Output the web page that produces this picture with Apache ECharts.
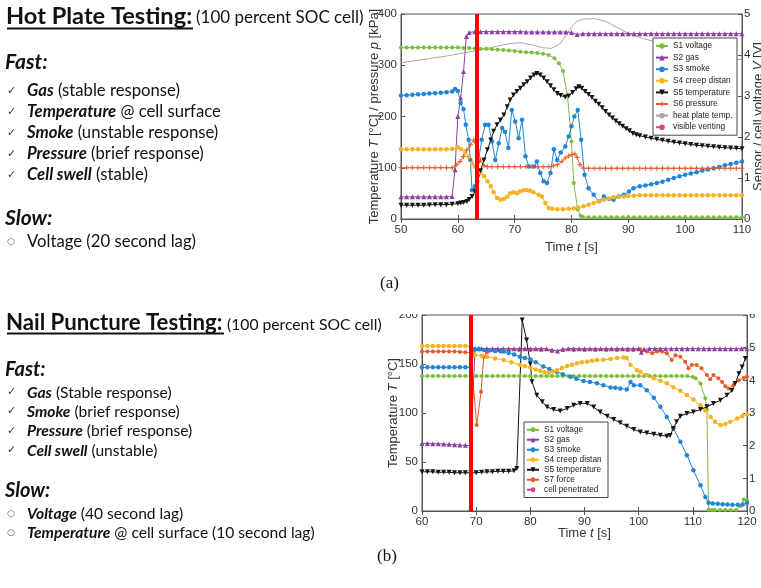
<!DOCTYPE html>
<html>
<head>
<meta charset="utf-8">
<script src="https://cdn.jsdelivr.net/npm/echarts@6.0.0/dist/echarts.min.js"></script>
<style>html,body{margin:0;padding:0;background:#fff}#chart{width:761px;height:588px}</style>
</head>
<body>
<div id="chart"></div>
<script>
// ---- text on the left ----
const hotItems = [['Gas', ' (stable response)'], ['Temperature', ' @ cell surface'], ['Smoke', ' (unstable response)'], ['Pressure', ' (brief response)'], ['Cell swell', ' (stable)']]
const hotSlow = [['', 'Voltage (20 second lag)']]
const nailItems = [['Gas', ' (Stable response)'], ['Smoke', ' (brief response)'], ['Pressure', ' (brief response)'], ['Cell swell', ' (unstable)']]
const nailSlow = [['Voltage', ' (40 second lag)'], ['Temperature', ' @ cell surface (10 second lag)']]

// ---- (a) hot plate, time [s] / value ----
const s1VoltA = [[50,4.18],[51,4.18],[52,4.18],[53,4.18],[54,4.18],[55,4.18],[56,4.18],[57,4.18],[58,4.18],[59,4.18],[60,4.18],[61,4.17],[62,4.17],[63,4.16],[64,4.15],[65,4.15],[66,4.14],[67,4.13],[68,4.12],[69,4.11],[70,4.1],[71,4.08],[72,4.07],[73,4.06],[74,4.05],[75,4.03],[76,4.0],[77,3.92],[77.8,3.8],[78.5,3.61],[79.3,3.0],[80,1.89],[80.4,0.88],[81.1,0.23],[81.6,0.08],[82,0.05],[83,0.04],[84,0.04],[85,0.04],[86,0.04],[87,0.04],[88,0.04],[89,0.04],[90,0.04],[91,0.04],[92,0.04],[93,0.04],[94,0.04],[95,0.04],[96,0.04],[97,0.04],[98,0.04],[99,0.04],[100,0.04],[101,0.04],[102,0.04],[103,0.04],[104,0.04],[105,0.04],[106,0.04],[107,0.04],[108,0.04],[109,0.04],[110,0.04]]
const s2GasA = [[50,0.54],[51,0.54],[52,0.54],[53,0.54],[54,0.54],[55,0.54],[56,0.54],[57,0.54],[58,0.54],[59,0.55],[59.5,1.2],[60,2.5],[60.5,2.95],[61,3.6],[61.5,4.45],[62,4.55],[63,4.57],[64,4.57],[65,4.57],[66,4.57],[67,4.57],[68,4.57],[69,4.57],[70,4.57],[71,4.57],[72,4.56],[73,4.56],[74,4.56],[75,4.56],[76,4.56],[77,4.56],[78,4.56],[79,4.56],[80,4.55],[81,4.5],[82,4.52],[83,4.52],[84,4.52],[85,4.52],[86,4.52],[87,4.52],[88,4.52],[89,4.52],[90,4.52],[91,4.52],[92,4.52],[93,4.52],[94,4.52],[95,4.52],[96,4.52],[97,4.52],[98,4.52],[99,4.52],[100,4.52],[101,4.52],[102,4.52],[103,4.52],[104,4.52],[105,4.52],[106,4.52],[107,4.52],[108,4.52],[109,4.52],[110,4.52]]
const s3SmokeA = [[50,3.01],[51,3.02],[52,3.03],[53,3.04],[54,3.05],[55,3.06],[56,3.07],[57,3.08],[58,3.09],[59,3.11],[59.5,3.17],[60,3.12],[60.5,2.83],[61,2.68],[61.4,2.3],[61.9,1.93],[62.2,1.44],[62.5,0.7],[63,0.8],[63.6,1.4],[64.2,1.93],[64.8,2.3],[65.4,2.3],[66,1.89],[66.6,1.44],[67.2,1.85],[67.8,2.22],[68.3,2.13],[68.9,1.73],[69.5,2.66],[70.1,2.38],[70.7,1.97],[71.3,2.42],[71.9,1.53],[72.5,1.28],[73.4,1.28],[73.9,1.4],[74.5,1.12],[75.1,0.92],[75.7,0.88],[76.3,1.12],[76.9,1.7],[77.5,1.44],[78.1,1.62],[78.9,1.77],[79.5,2.01],[80,2.26],[80.5,2.5],[81.1,2.66],[81.7,1.93],[82.3,1.08],[83,0.75],[83.9,0.59],[84.8,0.43],[85.7,0.55],[86.6,0.49],[87.4,0.47],[88.3,0.55],[89.2,0.59],[90.1,0.67],[90.9,0.75],[92,0.8],[93,0.82],[94,0.85],[95,0.88],[96,0.91],[97,0.96],[98,1.0],[99,1.04],[100,1.08],[101,1.11],[102,1.14],[103,1.18],[104,1.21],[105,1.24],[106,1.27],[107,1.31],[108,1.34],[109,1.37],[110,1.4]]
const s4CreepA = [[50,1.7],[51,1.7],[52,1.7],[53,1.7],[54,1.7],[55,1.7],[56,1.7],[57,1.7],[58,1.7],[59,1.71],[60,1.75],[60.6,1.7],[61.3,1.62],[61.9,1.52],[62.5,1.36],[63,1.28],[63.5,1.2],[64,1.12],[64.6,1.04],[65.2,0.92],[65.8,0.8],[66.3,0.65],[66.9,0.51],[67.5,0.47],[68.1,0.49],[68.7,0.54],[69.2,0.63],[69.8,0.65],[70.4,0.63],[70.9,0.67],[71.5,0.7],[72.1,0.71],[72.7,0.69],[73.3,0.65],[74.2,0.59],[74.8,0.55],[75.4,0.39],[76,0.27],[76.6,0.25],[77.5,0.24],[78.5,0.24],[79.5,0.25],[80.4,0.26],[81.2,0.28],[82.1,0.31],[83,0.35],[83.9,0.39],[84.8,0.43],[85.7,0.47],[86.6,0.5],[87.4,0.53],[88.3,0.54],[89.2,0.55],[90,0.56],[91,0.57],[92,0.58],[93,0.58],[94,0.58],[95,0.58],[96,0.58],[97,0.58],[98,0.58],[99,0.58],[100,0.58],[101,0.58],[102,0.58],[103,0.58],[104,0.58],[105,0.58],[106,0.58],[107,0.58],[108,0.58],[109,0.58],[110,0.58]]
const s5TempA = [[50,27],[51,27],[52,27],[53,27],[54,27],[55,27.5],[56,28],[57,28],[58,28],[59,29],[60,30],[60.5,31],[61,32],[61.6,34],[62,38],[62.5,44],[63,54],[63.4,70],[64,94],[64.6,115],[65.2,135],[65.8,154],[66.3,171],[66.9,184],[67.5,193],[68.1,203],[68.7,219],[69.2,232],[69.8,242],[70.4,249],[71,255],[71.6,262],[72.2,268],[72.8,275],[73.4,281],[73.9,284],[74.5,281],[75.1,275],[75.7,268],[76.3,260],[76.9,252],[77.5,245],[78.1,241],[78.9,238],[79.5,240],[80.2,247],[80.8,254],[81.3,258],[81.8,255],[82.4,249],[83,243],[83.6,237],[84.2,230],[84.8,224],[85.4,217],[86,210],[86.6,203],[87.2,197],[87.8,191],[88.4,186],[89,181],[89.6,176],[90.2,172],[90.8,167],[91.4,164.5],[92,162.5],[93,160],[94,157.5],[95,155.5],[96,153.5],[97,151.5],[98,150],[99,148.5],[100,147],[101,145.5],[102,144],[103,143],[104,142],[105,141],[106,140],[107,139],[108,138.5],[109,138],[110,137]]
const s6PressA = [[50,100],[51,100],[52,100],[53,100],[54,100],[55,100],[56,100],[57,100],[58,100],[59,100],[59.8,106],[60.4,112],[61,122],[61.6,135],[62.2,145],[62.8,154],[63.4,135],[64,115],[64.6,104],[65.2,102],[66,102],[67,102],[68,102],[69,102],[70,102],[71,102],[72,102],[73,102],[74,102],[75,102],[76,102],[76.8,104],[77.5,106],[78.3,112],[78.9,119],[79.5,123],[80.1,126],[80.6,127],[81,120],[81.5,106],[82.1,99],[83,99],[84,99],[85,99],[86,99],[87,99],[88,99],[89,99],[90,99],[91,99],[92,99],[93,99],[94,99],[95,99],[96,99],[97,99],[98,99],[99,99],[100,99],[101,99],[102,99],[103,99],[104,99],[105,99],[106,99],[107,99],[108,99],[109,99],[110,99]]
const heatPlateA = [[50,305],[52,308],[55,313],[58,318],[60,322],[63,328],[66,335],[69,342],[71,344],[73,340],[75,334],[76.5,333],[78,342],[79,358],[80,375],[81,386],[82,390],[84,391],[86,386],[88,374],[90,362],[92,354],[95,345],[100,330],[105,318],[108,312],[110,311]]
const ventA = 63.35

// ---- (b) nail puncture ----
const s1VoltB = [[60,4.13],[61,4.13],[62,4.13],[63,4.13],[64,4.13],[65,4.13],[66,4.13],[67,4.13],[68,4.13],[69,4.13],[70,4.13],[71,4.13],[72,4.13],[73,4.13],[74,4.13],[75,4.13],[76,4.13],[77,4.13],[78,4.13],[79,4.13],[80,4.13],[81,4.13],[82,4.13],[83,4.13],[84,4.13],[85,4.13],[86,4.13],[87,4.13],[88,4.13],[89,4.13],[90,4.13],[91,4.13],[92,4.13],[93,4.13],[94,4.13],[95,4.13],[96,4.13],[97,4.13],[98,4.13],[99,4.13],[100,4.13],[101,4.13],[102,4.13],[103,4.13],[104,4.13],[105,4.13],[106,4.13],[107,4.13],[108,4.13],[109,4.13],[110,4.1],[110.5,4.06],[111.4,3.9],[112.3,3.45],[112.6,3.09],[112.9,0.04],[113.5,0.03],[114,0.03],[115,0.03],[116,0.03],[117,0.03],[118,0.03],[118.8,0.15],[119.4,0.35],[120,0.33]]
const s2GasB = [[60,2.07],[61,2.07],[62,2.06],[63,2.06],[64,2.05],[65,2.04],[66,2.03],[67,2.02],[68,2.01],[69,2.0],[69.8,4.97],[70.5,4.98],[71,4.97],[72,4.97],[73,4.97],[74,4.97],[75,4.97],[76,4.97],[77,4.97],[78,4.97],[79,4.97],[80,4.97],[81,4.97],[82,4.97],[83,4.97],[84,4.93],[85,4.9],[86,4.95],[87,4.97],[88,4.97],[89,4.97],[90,4.97],[91,4.97],[92,4.97],[93,4.97],[94,4.97],[95,4.97],[96,4.97],[97,4.97],[98,4.97],[99,4.97],[100,4.97],[100.5,4.86],[101,4.95],[102,4.97],[103,4.97],[104,4.97],[105,4.97],[106,4.97],[107,4.97],[108,4.97],[109,4.97],[110,4.97],[111,4.97],[112,4.97],[113,4.97],[114,4.97],[115,4.97],[116,4.97],[117,4.97],[118,4.97],[119,4.97],[120,4.97]]
const s3SmokeB = [[60,4.4],[61,4.4],[62,4.4],[63,4.4],[64,4.4],[65,4.4],[66,4.4],[67,4.4],[68,4.4],[69,4.4],[69.7,4.95],[70.5,4.95],[71.5,4.93],[72.5,4.92],[73.5,4.9],[74.5,4.89],[75.1,4.88],[76,4.84],[77,4.79],[78.1,4.72],[79,4.68],[80,4.64],[81,4.55],[82.4,4.42],[83.5,4.35],[84.9,4.26],[86,4.19],[87.4,4.11],[88.5,4.05],[89.8,3.98],[91,3.95],[92.3,3.91],[93.5,3.85],[94.8,3.78],[95.7,3.77],[96.6,3.75],[97.8,3.72],[98.5,3.95],[99.1,3.85],[100.3,3.85],[101.5,3.7],[102.8,3.47],[104,3.19],[105.2,2.88],[106.4,2.53],[107.7,2.12],[108.9,1.71],[110.1,1.25],[111.4,0.79],[112.3,0.43],[112.9,0.25],[113.7,0.23],[114.6,0.22],[115.5,0.21],[116.4,0.2],[117.3,0.19],[118.3,0.19],[119.2,0.2],[120,0.25]]
const s4CreepB = [[60,5.05],[61,5.05],[62,5.05],[63,5.05],[64,5.05],[65,5.05],[66,5.05],[67,5.05],[68,5.05],[69,5.04],[69.8,4.78],[71,4.75],[72,4.72],[73.5,4.67],[75.1,4.62],[76.5,4.55],[78.1,4.47],[79,4.43],[80,4.4],[81,4.33],[81.8,4.29],[82.6,4.25],[83.4,4.23],[84.2,4.27],[84.9,4.31],[85.8,4.38],[86.8,4.44],[87.7,4.48],[88.6,4.52],[89.5,4.55],[90.5,4.57],[91.4,4.6],[92.3,4.62],[93.5,4.63],[94.8,4.65],[96,4.68],[97.2,4.7],[97.8,4.68],[98.5,4.47],[99.7,4.31],[100.3,4.26],[101.5,4.16],[102.8,4.06],[104,3.99],[105.2,3.91],[106.4,3.79],[107.7,3.68],[108.9,3.55],[110.1,3.41],[111.4,3.24],[112.3,3.08],[113.3,2.88],[114.1,2.73],[115.1,2.63],[116,2.66],[116.9,2.73],[118.2,2.83],[119.1,2.9],[120,2.96]]
const s5TempB = [[60,40],[61,40],[62,40],[63,39.5],[64,39.5],[65,39.5],[66,39],[67,39],[68,39],[69,39],[70,39],[71,39.5],[72,40],[73,40],[74,40.5],[75,40.5],[76,40.5],[77,41],[77.5,43.3],[78.5,195],[79.3,174.5],[80,150],[80.3,132],[81.2,118],[82.2,111.5],[83.1,106],[84.3,103.6],[85.5,102],[86.8,104.7],[88,108],[89.2,109.8],[90.5,109.8],[91.7,106],[92.9,101],[94.2,96.8],[95.4,93.4],[96.6,90],[97.8,86.6],[99.1,83.2],[100.3,80.7],[101.5,79.6],[102.8,78.4],[104,77.3],[105.2,76.3],[105.8,77],[106.4,84.2],[107,91],[107.7,96.8],[108.9,99.5],[110.1,101],[111.4,103.6],[112.6,106.3],[113.8,109.8],[115.1,113],[116.3,118],[117.2,123],[117.8,130],[118.5,140],[119.1,147],[119.7,155.7]]
const s7ForceB = [[60,4.88],[61,4.88],[62,4.88],[63,4.88],[64,4.88],[65,4.88],[66,4.88],[67,4.87],[68,4.86],[69,4.85],[70.1,2.63],[70.9,3.65],[71.4,4.72],[72,4.85],[74,4.93],[76,4.93],[78,4.93],[80,4.93],[82,4.93],[84,4.9],[86,4.93],[88,4.93],[90,4.93],[92,4.93],[94,4.93],[96,4.93],[98,4.93],[99,4.93],[100.3,4.95],[101.5,4.88],[102.5,4.83],[103.4,4.88],[104.3,4.88],[105.2,4.83],[106.1,4.62],[106.8,4.77],[107.7,4.72],[108.6,4.57],[109.2,4.37],[109.8,4.47],[110.7,4.47],[111.6,4.37],[112.6,4.16],[113.2,4.03],[113.8,4.16],[114.7,4.06],[115.4,3.95],[116,3.82],[116.6,3.75],[117.5,3.85],[118.5,4.0],[119.4,4.07],[120,4.11]]
const ventB = 69.05

const AX = 'Liberation Sans, Arial, sans-serif'
const TX = 'Lato, DejaVu Sans, sans-serif'
const C = {
  green: '#7cbd3c', purple: '#8e3ea3', blue: '#1f86d6', yellow: '#f4b321',
  black: '#141414', red: '#e85a2a', grey: '#a8a8a8', pink: '#e0457f'
}
const tri = 'triangle'
const plus = 'path://M0,4h10v2H0z M4,0h2v10H4z'

function line(name, data, color, symbol, size, xi, yi, extra) {
  return Object.assign({
    type: 'line', name, data, xAxisIndex: xi, yAxisIndex: yi,
    symbol, symbolSize: size, showSymbol: symbol !== 'none',
    lineStyle: { color, width: 1 }, itemStyle: { color },
    animation: false, silent: true
  }, extra || {})
}

function vent(x) {
  return {
    silent: true, symbol: 'none', label: { show: false },
    lineStyle: { color: '#ff0000', width: 4, type: 'solid' },
    data: [{ xAxis: x }]
  }
}

// text block builder, s = sizes {title, sub, head, item}
function block(g, title, sub, s, subX, yTitle, lineY, lineEnd, fastY, items, itemYs, slowY, slow, slowYs) {
  const bi = { fontWeight: 'bold', fontStyle: 'italic', fontSize: s.item, fontFamily: TX, fill: '#111' }
  const txt = (x, y, text, extra) => g.push({ type: 'text', x, y, z: 100, style: Object.assign({ text, fontFamily: TX, fill: '#111', verticalAlign: 'middle' }, extra) })
  txt(6, yTitle, title, { fontSize: s.title, fontWeight: 'bold' })
  txt(subX, yTitle + 1.5, sub, { fontSize: s.sub })
  g.push({ type: 'line', z: 100, shape: { x1: 7, y1: lineY, x2: lineEnd, y2: lineY }, style: { stroke: '#111', lineWidth: 2 } })
  txt(5, fastY, 'Fast:', { fontSize: s.head, fontWeight: 'bold', fontStyle: 'italic' })
  items.forEach((it, i) => {
    txt(7, itemYs[i], '✓', { fontSize: 11, fontFamily: 'DejaVu Sans', fill: '#333' })
    txt(27, itemYs[i], '{b|' + it[0] + '}' + it[1], { fontSize: s.item, rich: { b: bi } })
  })
  txt(5, slowY, 'Slow:', { fontSize: s.head, fontWeight: 'bold', fontStyle: 'italic' })
  slow.forEach((it, i) => {
    txt(7, slowYs[i], '○', { fontSize: 9, fontFamily: 'DejaVu Sans', fill: '#555' })
    txt(27, slowYs[i], it[0] ? '{b|' + it[0] + '}' + it[1] : it[1], { fontSize: s.item, rich: { b: bi } })
  })
}

const graphic = []
block(graphic, 'Hot Plate Testing:', '(100 percent SOC cell)', { title: 23.6, sub: 17, head: 21, item: 16.7 }, 196, 16, 28.5, 193, 62, hotItems, [91, 112, 133, 154, 175], 218, hotSlow, [241.5])
block(graphic, 'Nail Puncture Testing:', '(100 percent SOC cell)', { title: 22.2, sub: 15.7, head: 20, item: 15.6 }, 227, 323, 333.5, 224, 370, nailItems, [392.5, 411.5, 431, 450.5], 491, nailSlow, [514, 533])
graphic.push({ type: 'text', x: 380, y: 284, z: 100, style: { text: '(a)', fontSize: 17, fontFamily: 'Liberation Serif', fill: '#111', verticalAlign: 'middle' } })
graphic.push({ type: 'text', x: 377, y: 557, z: 100, style: { text: '(b)', fontSize: 17, fontFamily: 'Liberation Serif', fill: '#111', verticalAlign: 'middle' } })
// the lower figure is cropped at its top edge
graphic.push({ type: 'rect', z: 100, shape: { x: 392, y: 296, width: 369, height: 18 }, style: { fill: '#fff' } })

const nameStyle = { color: '#333', fontSize: 13, fontFamily: AX, rich: { i: { fontStyle: 'italic', fontSize: 13, fontFamily: AX, color: '#333' } } }
const axisCommon = {
  axisLine: { show: true, lineStyle: { color: '#555', width: 1 } },
  axisTick: { show: true, inside: true, length: 4, lineStyle: { color: '#555' } },
  splitLine: { show: false },
  axisLabel: { color: '#333', fontSize: 11.5, fontFamily: AX, margin: 5 }
}
function xAx(grid, min, max, pos, gap) {
  const a = Object.assign({}, axisCommon, { type: 'value', gridIndex: grid, min, max, interval: 10, position: pos })
  if (pos === 'top') {
    a.axisLabel = { show: false }
  } else {
    a.name = 'Time {i|t} [s]'
    a.nameLocation = 'middle'
    a.nameGap = gap
    a.nameMoveOverlap = false
    a.nameTextStyle = nameStyle
  }
  return a
}
function yAx(grid, min, max, interval, pos, name, gap) {
  return Object.assign({}, axisCommon, {
    type: 'value', gridIndex: grid, min, max, interval, position: pos,
    name, nameLocation: 'middle', nameGap: gap, nameRotate: 90, nameMoveOverlap: false, nameTextStyle: nameStyle,
    axisLabel: { color: '#333', fontSize: 11.5, fontFamily: AX, margin: pos === 'left' ? 4 : 2 }
  })
}

const legendStyle = {
  orient: 'vertical', itemWidth: 12, itemHeight: 7, itemGap: 1.6,
  backgroundColor: '#fff', borderColor: '#444', borderWidth: 1, borderRadius: 0,
  padding: [3, 3, 3, 2], selectedMode: false
}
const legendText = (lh) => ({ fontSize: 8.3, lineHeight: lh, color: '#222', fontFamily: AX, width: 61, overflow: 'truncate', ellipsis: '' })

const option = {
  backgroundColor: '#fff',
  animation: false,
  graphic,
  grid: [
    { left: 401, top: 14, width: 341, height: 205, show: true, borderColor: '#555', borderWidth: 1, outerBoundsMode: 'none' },
    { left: 422, top: 315, width: 325, height: 196, show: true, borderColor: '#555', borderWidth: 1, outerBoundsMode: 'none' }
  ],
  xAxis: [xAx(0, 50, 110, 'bottom', 22), xAx(1, 60, 120, 'bottom', 16), xAx(0, 50, 110, 'top'), xAx(1, 60, 120, 'top')],
  yAxis: [
    yAx(0, 0, 400, 100, 'left', 'Temperature {i|T} [°C] / pressure {i|p} [kPa]', 20),
    yAx(0, 0, 5, 1, 'right', 'Sensor / cell voltage {i|V} [V]', 10),
    yAx(1, 0, 200, 50, 'left', 'Temperature {i|T} [°C]', 22),
    yAx(1, 0, 6, 1, 'right', 'Sensor / cell voltage {i|V} [V]', 14)
  ],
  legend: [
    Object.assign({}, legendStyle, { left: 653, top: 38, textStyle: legendText(10), data: ['S1 voltage', 'S2 gas', 'S3 smoke', 'S4 creep distance', 'S5 temperature', 'S6 pressure', 'heat plate temp.', 'visible venting'] }),
    Object.assign({}, legendStyle, { left: 524, top: 422, itemGap: 0.5, itemHeight: 6, textStyle: legendText(9.5), data: ['S1 voltage', 'S2 gas', 'S3 smoke', 'S4 creep distance', 'S5 temperature', 'S7 force', 'cell penetrated'] })
  ],
  series: [
    line('heat plate temp.', heatPlateA, C.grey, 'none', 0, 0, 0),
    line('S1 voltage', s1VoltA, C.green, 'circle', 4, 0, 1),
    line('S2 gas', s2GasA, C.purple, tri, 5, 0, 1),
    line('S3 smoke', s3SmokeA, C.blue, 'circle', 4.5, 0, 1),
    line('S4 creep distance', s4CreepA, C.yellow, 'circle', 4.5, 0, 1),
    line('S6 pressure', s6PressA, C.red, plus, 5, 0, 0),
    line('S5 temperature', s5TempA, C.black, tri, 5, 0, 0, { symbolRotate: 180, markLine: vent(ventA) }),
    line('visible venting', [], C.pink, 'none', 0, 0, 0, { lineStyle: { color: C.pink, width: 1, type: 'dashed' } }),

    line('S1 voltage', s1VoltB, C.green, 'circle', 4, 1, 3),
    line('S7 force', s7ForceB, C.red, 'circle', 4, 1, 3),
    line('S2 gas', s2GasB, C.purple, tri, 5, 1, 3),
    line('S3 smoke', s3SmokeB, C.blue, 'circle', 4.5, 1, 3),
    line('S4 creep distance', s4CreepB, C.yellow, 'circle', 4.5, 1, 3),
    line('S5 temperature', s5TempB, C.black, tri, 5, 1, 2, { symbolRotate: 180, markLine: vent(ventB) }),
    line('cell penetrated', [], C.pink, 'none', 0, 1, 2, { lineStyle: { color: C.pink, width: 1, type: 'dashed' } })
  ]
}

const chart = echarts.init(document.getElementById('chart'), null, { renderer: 'canvas' })
chart.setOption(option)
</script>
</body>
</html>
